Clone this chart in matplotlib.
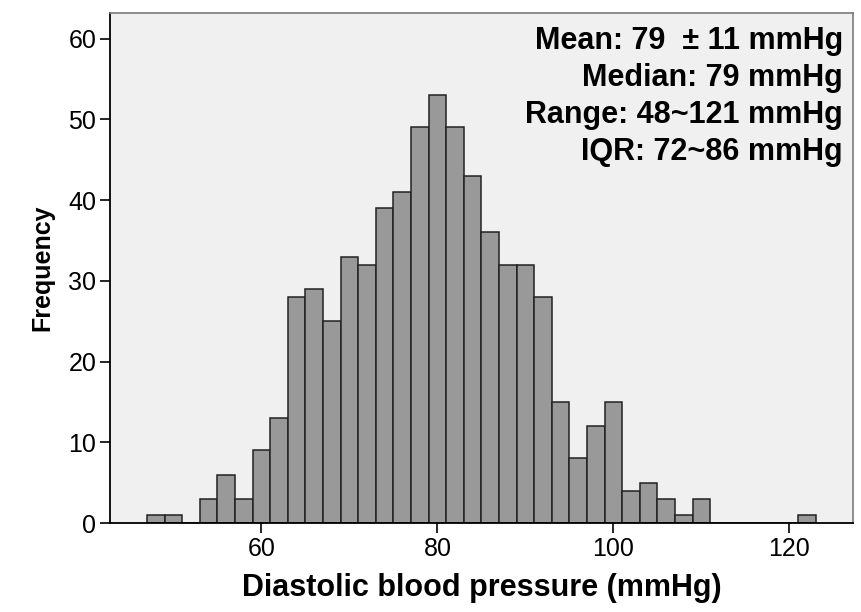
import matplotlib.pyplot as plt

# histogram of diastolic blood pressure, 2 mmHg bins starting at 47
bin_edges = list(range(47, 125, 2))
counts = [1, 1, 0, 3, 6, 3, 9, 13, 28, 29, 25, 33, 32, 39, 41, 49, 53, 49, 43,
          36, 32, 32, 28, 15, 8, 12, 15, 4, 5, 3, 1, 3, 0, 0, 0, 0, 0, 1]

x_ticks = [60, 80, 100, 120]
y_ticks = [0, 10, 20, 30, 40, 50, 60]

stats_lines = [
    'Mean: 79  \u00b1 11 mmHg',
    'Median: 79 mmHg',
    'Range: 48~121 mmHg',
    'IQR: 72~86 mmHg',
]

plt.rcParams['font.family'] = ['Liberation Sans', 'DejaVu Sans']

fig = plt.figure(figsize=(8.61, 6.12), dpi=100)
ax = fig.add_axes([0.1278, 0.1454, 0.8626, 0.8338])
ax.set_facecolor('#f0f0f0')

lefts = bin_edges[:-1]
widths = [b - a for a, b in zip(bin_edges[:-1], bin_edges[1:])]
ax.bar(lefts, counts, width=widths, align='edge', color='#999999',
       edgecolor='#222222', linewidth=1.1)

ax.set_xlim(42.8, 127.2)
ax.set_ylim(0, 63.2)
ax.set_xticks(x_ticks)
ax.set_yticks(y_ticks)
ax.tick_params(axis='both', labelsize=18, length=7, width=1.2, pad=3, color='black')

for side in ['top', 'right']:
    ax.spines[side].set_color('#7a7a7a')
    ax.spines[side].set_linewidth(1.2)
for side in ['left', 'bottom']:
    ax.spines[side].set_color('black')
    ax.spines[side].set_linewidth(1.3)

ax.set_xlabel('Diastolic blood pressure (mmHg)', fontsize=22, fontweight='bold', labelpad=9)
ax.set_ylabel('Frequency', fontsize=18, fontweight='bold', labelpad=10)

ax.text(0.987, 0.974, '\n'.join(stats_lines), transform=ax.transAxes,
        ha='right', va='top', multialignment='right',
        fontsize=22, fontweight='bold', linespacing=1.3)

fig.savefig('out.png', dpi=100)
